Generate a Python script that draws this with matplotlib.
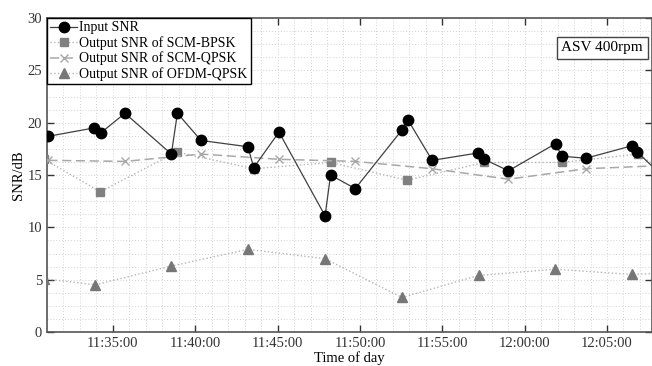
import matplotlib
matplotlib.use('Agg')
import matplotlib.pyplot as plt
import matplotlib.dates as mdates
from matplotlib.ticker import MultipleLocator
import pandas as pd

plt.rcParams['font.family'] = ['Liberation Serif', 'DejaVu Serif']

# Input SNR
t_in = ['11:31:05', '11:33:52', '11:34:15', '11:35:44', '11:38:33', '11:38:55',
        '11:40:21', '11:43:12', '11:43:33', '11:45:05', '11:47:53', '11:48:13',
        '11:49:43', '11:52:33', '11:52:54', '11:54:23', '11:57:09', '11:57:33',
        '11:59:01', '12:01:53', '12:02:15', '12:03:43', '12:06:32', '12:06:50',
        '12:08:10']
snr_in = [18.7, 19.5, 19.0, 20.9, 17.0, 20.9, 18.3, 17.7, 15.7, 19.1, 11.1, 15.0,
          13.7, 19.3, 20.3, 16.4, 17.1, 16.5, 15.4, 18.0, 16.8, 16.6, 17.8, 17.2,
          15.2]

# Output SNR of SCM-BPSK
t_bpsk = ['11:30:50', '11:34:14', '11:38:52', '11:43:33', '11:48:13', '11:52:52',
          '11:57:33', '12:02:15', '12:06:53', '12:08:10']
snr_bpsk = [16.5, 13.4, 17.2, 15.6, 16.2, 14.5, 16.2, 16.2, 17.0, 15.7]

# Output SNR of SCM-QPSK
t_qpsk = ['11:31:05', '11:35:44', '11:40:21', '11:45:05', '11:49:43', '11:54:23',
          '11:59:01', '12:03:43', '12:08:20']
snr_qpsk = [16.4, 16.3, 17.0, 16.5, 16.3, 15.6, 14.6, 15.6, 15.9]

# Output SNR of OFDM-QPSK
t_ofdm = ['11:30:50', '11:33:55', '11:38:33', '11:43:12', '11:47:53', '11:52:33',
          '11:57:12', '12:01:51', '12:06:30', '12:08:10']
snr_ofdm = [5.1, 4.5, 6.3, 7.9, 7.0, 3.3, 5.4, 6.0, 5.5, 5.6]

day = '2020-01-01 '
def to_dt(ts):
    return pd.to_datetime([day + s for s in ts])

fig = plt.figure(figsize=(6.52, 3.66), dpi=100)
ax = fig.add_axes([0.0721, 0.0929, 0.9279, 0.8579])

ax.plot(to_dt(t_bpsk), snr_bpsk, linestyle=':', color='#b5b5b5', linewidth=1.0,
        marker='s', markersize=5.5, markerfacecolor='#808080', markeredgecolor='#808080',
        label='Output SNR of SCM-BPSK', zorder=3)
ax.plot(to_dt(t_qpsk), snr_qpsk, linestyle=(0, (6, 3)), color='#a8a8a8', linewidth=1.1,
        marker='x', markersize=6, markeredgecolor='#a8a8a8',
        label='Output SNR of SCM-QPSK', zorder=3)
ax.plot(to_dt(t_ofdm), snr_ofdm, linestyle=':', color='#b5b5b5', linewidth=1.0,
        marker='^', markersize=7, markerfacecolor='#777777', markeredgecolor='#777777',
        label='Output SNR of OFDM-QPSK', zorder=3)
ax.plot(to_dt(t_in), snr_in, linestyle='-', color='#404040', linewidth=0.9,
        marker='o', markersize=7.5, markerfacecolor='black', markeredgecolor='black',
        label='Input SNR', zorder=4)

ax.set_xlim(pd.Timestamp(day + '11:31:00'), pd.Timestamp(day + '12:07:44'))
ax.set_ylim(0, 30)

ax.xaxis.set_major_locator(mdates.MinuteLocator(byminute=range(0, 60, 5)))
ax.xaxis.set_minor_locator(mdates.MinuteLocator())
ax.xaxis.set_major_formatter(mdates.DateFormatter('%H:%M:%S'))
ax.yaxis.set_major_locator(MultipleLocator(5))
ax.yaxis.set_minor_locator(MultipleLocator(1.25))

ax.grid(True, which='both', linestyle=(0, (1, 2)), color='#d2d2d2', linewidth=0.7)
ax.set_axisbelow(True)
ax.tick_params(which='major', direction='in', length=5, width=1, top=True, right=True,
               labelsize=10.5, colors='#333333')
ax.tick_params(which='minor', length=0)
for s in ax.spines.values():
    s.set_color('#555555')
    s.set_linewidth(1.2)

ax.set_xlabel('Time of day', fontsize=10.5, labelpad=1)
ax.set_ylabel('SNR/dB', fontsize=10.5, labelpad=2)

handles, labels = ax.get_legend_handles_labels()
order = [3, 0, 1, 2]
leg = ax.legend([handles[i] for i in order], [labels[i] for i in order],
                loc='upper left', bbox_to_anchor=(0, 1), fontsize=10,
                frameon=True, fancybox=False, edgecolor='black', framealpha=1,
                handlelength=1.9, handletextpad=0.15, labelspacing=0.12,
                borderpad=0.25, borderaxespad=0)
leg.get_frame().set_linewidth(1.0)

ax.text(0.985, 0.905, 'ASV 400rpm', transform=ax.transAxes, ha='right', va='center',
        fontsize=11, bbox=dict(boxstyle='square,pad=0.3', facecolor='white',
                               edgecolor='#444444', linewidth=1.0))

fig.savefig('out.png', dpi=100)
